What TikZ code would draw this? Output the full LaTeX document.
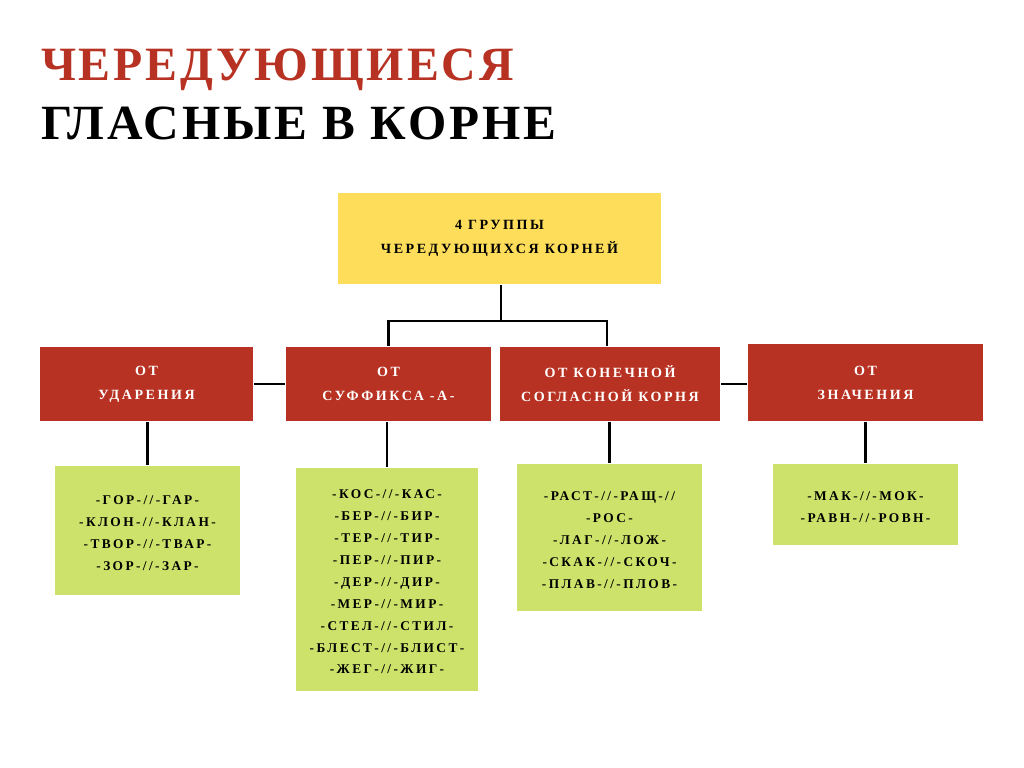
\documentclass[tikz,border=0pt]{standalone}
\usepackage{fontspec}
\setmainfont{Liberation Serif}
\newfontfamily\spaced[LetterSpace=18]{Liberation Serif}
\newfontfamily\titlefont[LetterSpace=6]{Liberation Serif}
\usetikzlibrary{positioning}
\definecolor{rootred}{HTML}{B83223}
\definecolor{rootyellow}{HTML}{FEDD5A}
\definecolor{rootgreen}{HTML}{CDE26A}
\tikzset{every picture/.style={line width=1.5pt}}
\tikzset{
  head/.style={fill=rootred,text=white,align=center,font=\spaced\bfseries\fontsize{10}{17}\selectfont,inner sep=0pt},
  list/.style={fill=rootgreen,text=black,align=center,font=\spaced\bfseries\fontsize{9.5}{15.6}\selectfont,inner sep=0pt,anchor=north},
  link/.style={draw=black}
}
\begin{document}
\begin{tikzpicture}[x=0.025cm,y=-0.025cm]
\useasboundingbox[fill=white] (0,0) rectangle (1024,768);
%
\node[anchor=west,text=rootred,font=\titlefont\bfseries\fontsize{34}{34}\selectfont,inner sep=0pt] (t1) at (40,70) {ЧЕРЕДУЮЩИЕСЯ};
\node[anchor=west,text=black,font=\titlefont\bfseries\fontsize{35}{35}\selectfont,inner sep=0pt] (t2) at (40,123) {ГЛАСНЫЕ В КОРНЕ};
%
\node[fill=rootyellow,minimum width=323*0.025cm,minimum height=91*0.025cm,align=center,font=\spaced\bfseries\fontsize{10}{17}\selectfont] (top) at (499.5,238.5) {4 ГРУППЫ\\ЧЕРЕДУЮЩИХСЯ КОРНЕЙ};
%
\node[head,minimum width=213*0.025cm,minimum height=74*0.025cm] (h1) at (146.5,384) {ОТ\\УДАРЕНИЯ};
\node[head,minimum width=205*0.025cm,minimum height=74*0.025cm] (h2) at (388.5,384) {ОТ\\СУФФИКСА -А-};
\node[head,minimum width=220*0.025cm,minimum height=74*0.025cm] (h3) at (610,384) {ОТ КОНЕЧНОЙ\\СОГЛАСНОЙ КОРНЯ};
\node[head,minimum width=235*0.025cm,minimum height=77*0.025cm] (h4) at (865.5,382.5) {ОТ\\ЗНАЧЕНИЯ};
%
\node[list,minimum width=185*0.025cm,minimum height=129*0.025cm,text depth=0pt] (g1) at (147.5,465) {\\[-6pt]-ГОР-//-ГАР-\\-КЛОН-//-КЛАН-\\-ТВОР-//-ТВАР-\\-ЗОР-//-ЗАР-};
\node[list,minimum width=182*0.025cm,minimum height=223*0.025cm] (g2) at (387,467) {\\[-6pt]-КОС-//-КАС-\\-БЕР-//-БИР-\\-ТЕР-//-ТИР-\\-ПЕР-//-ПИР-\\-ДЕР-//-ДИР-\\-МЕР-//-МИР-\\-СТЕЛ-//-СТИЛ-\\-БЛЕСТ-//-БЛИСТ-\\-ЖЕГ-//-ЖИГ-};
\node[list,minimum width=185*0.025cm,minimum height=147*0.025cm] (g3) at (609.5,463) {\\[-6pt]-РАСТ-//-РАЩ-//\\-РОС-\\-ЛАГ-//-ЛОЖ-\\-СКАК-//-СКОЧ-\\-ПЛАВ-//-ПЛОВ-};
\node[list,minimum width=185*0.025cm,minimum height=81*0.025cm] (g4) at (865.5,463) {\\[-6pt]-МАК-//-МОК-\\-РАВН-//-РОВН-};
%
\coordinate (fork) at (501,321);
\draw[link] (top.south -| fork) -- (fork);
\draw[link] (h2.north) |- (fork) -| (h3.north -| 607,0);
\draw[link] (h1.east) -- (h2.west);
\draw[link] (h3.east) -- (h4.west |- h3.east);
\foreach \Source/\Target in {h1/g1,h2/g2,h3/g3,h4/g4}
\draw[link] (\Source.south -| \Target.north) -- (\Target.north);
\end{tikzpicture}
\end{document}
